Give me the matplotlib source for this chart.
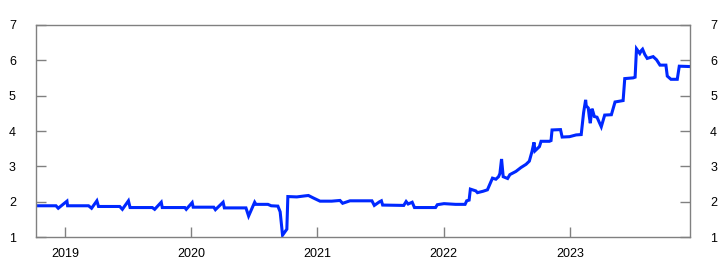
import matplotlib
matplotlib.use("Agg")
import matplotlib.pyplot as plt

# time as decimal year
t = [2018.771, 2018.929, 2018.947, 2019.016, 2019.021, 2019.187, 2019.211, 2019.253, 2019.266,
     2019.434, 2019.455, 2019.503, 2019.516, 2019.692, 2019.711, 2019.763, 2019.771, 2019.950,
     2019.961, 2020.008, 2020.016, 2020.179, 2020.192, 2020.253, 2020.263, 2020.434, 2020.455,
     2020.503, 2020.513, 2020.608, 2020.634, 2020.687, 2020.705, 2020.724, 2020.758, 2020.766,
     2020.837, 2020.903, 2020.929, 2020.968, 2021.021, 2021.113, 2021.179, 2021.200, 2021.258,
     2021.324, 2021.432, 2021.451, 2021.491, 2021.507, 2021.517, 2021.684, 2021.703, 2021.719,
     2021.751, 2021.769, 2021.936, 2021.950, 2022.003, 2022.095, 2022.170, 2022.183, 2022.202,
     2022.212, 2022.255, 2022.268, 2022.313, 2022.347, 2022.387, 2022.414, 2022.435, 2022.446,
     2022.459, 2022.472, 2022.507, 2022.525, 2022.573, 2022.613, 2022.653, 2022.679, 2022.700,
     2022.716, 2022.724, 2022.759, 2022.772, 2022.838, 2022.851, 2022.859, 2022.926, 2022.939,
     2022.997, 2023.050, 2023.090, 2023.109, 2023.125, 2023.130, 2023.146, 2023.154, 2023.162,
     2023.175, 2023.183, 2023.194, 2023.215, 2023.249, 2023.276, 2023.329, 2023.358, 2023.422,
     2023.435, 2023.501, 2023.517, 2023.528, 2023.544, 2023.554, 2023.568, 2023.576, 2023.594,
     2023.613, 2023.660, 2023.687, 2023.714, 2023.761, 2023.772, 2023.801, 2023.851, 2023.867,
     2023.952]
rate = [1.89, 1.89, 1.82, 2.02, 1.89, 1.89, 1.82, 2.03, 1.87,
        1.87, 1.79, 2.03, 1.84, 1.84, 1.79, 1.99, 1.84, 1.84,
        1.79, 1.98, 1.85, 1.85, 1.78, 1.99, 1.83, 1.83, 1.60,
        1.99, 1.93, 1.93, 1.89, 1.88, 1.72, 1.06, 1.23, 2.15,
        2.14, 2.17, 2.18, 2.11, 2.02, 2.02, 2.04, 1.96, 2.03,
        2.03, 2.03, 1.90, 2.00, 2.03, 1.91, 1.90, 2.01, 1.94,
        1.99, 1.84, 1.84, 1.92, 1.95, 1.93, 1.93, 2.03, 2.05,
        2.36, 2.31, 2.26, 2.30, 2.34, 2.67, 2.64, 2.71, 2.80,
        3.21, 2.71, 2.66, 2.77, 2.86, 2.97, 3.06, 3.15, 3.42,
        3.68, 3.44, 3.56, 3.71, 3.71, 3.73, 4.03, 4.04, 3.83,
        3.84, 3.89, 3.90, 4.52, 4.88, 4.71, 4.65, 4.41, 4.22,
        4.63, 4.55, 4.41, 4.39, 4.12, 4.45, 4.46, 4.82, 4.86,
        5.48, 5.50, 5.52, 6.32, 6.24, 6.19, 6.28, 6.31, 6.16,
        6.05, 6.10, 6.01, 5.86, 5.86, 5.55, 5.46, 5.46, 5.83,
        5.82]

years = [2019, 2020, 2021, 2022, 2023]
yticks = [1, 2, 3, 4, 5, 6, 7]

fig = plt.figure(figsize=(7.22, 2.78), dpi=100)
ax = fig.add_axes([0.0499, 0.1464, 0.9058, 0.7646])

ax.plot(t, rate, color='#0028ff', linewidth=2.2, solid_joinstyle='miter')

ax.set_xlim(2018.771, 2023.952)
ax.set_ylim(1, 7)
ax.set_xticks(years)
ax.set_xticklabels([str(y) for y in years])
ax.set_yticks(yticks)

for s in ax.spines.values():
    s.set_color('#808080')
    s.set_linewidth(1.0)

ax.tick_params(axis='x', direction='in', length=7, width=1, color='#808080',
               pad=8, labelsize=9)
ax.tick_params(axis='y', direction='in', length=7, width=1, color='#808080',
               pad=14.5, labelsize=9, left=True, right=True,
               labelleft=True, labelright=True)
for lab in ax.get_xticklabels() + ax.get_yticklabels():
    lab.set_family('Liberation Sans')

fig.savefig('out.png', dpi=100)
